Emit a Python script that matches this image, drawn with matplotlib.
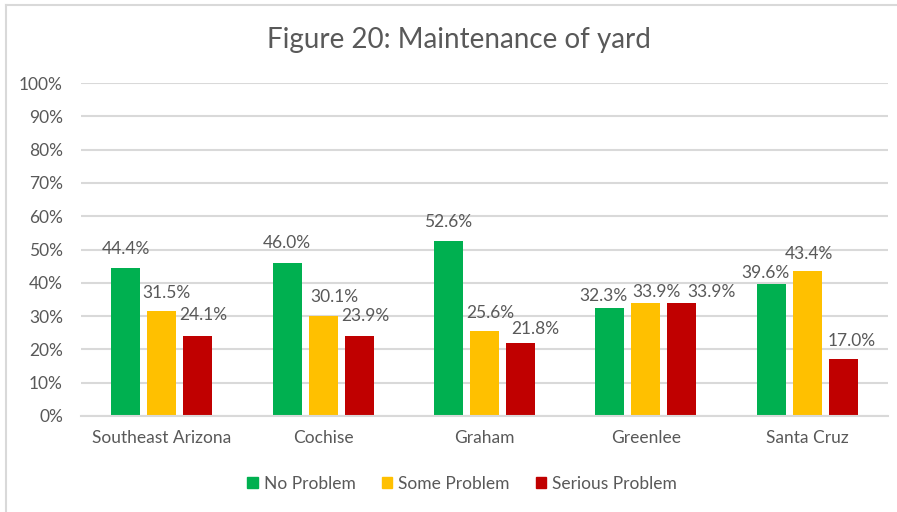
import matplotlib
matplotlib.use("Agg")
import matplotlib.pyplot as plt
import numpy as np
from matplotlib.lines import Line2D

categories = ["Southeast Arizona", "Cochise", "Graham", "Greenlee", "Santa Cruz"]
series_names = ["No Problem", "Some Problem", "Serious Problem"]
no_problem = [44.4, 46.0, 52.6, 32.3, 39.6]
some_problem = [31.5, 30.1, 25.6, 33.9, 43.4]
serious_problem = [24.1, 23.9, 21.8, 33.9, 17.0]
colors = ["#00B050", "#FFC000", "#C00000"]
yticks = [0, 10, 20, 30, 40, 50, 60, 70, 80, 90, 100]

# label placement nudges (pixels) to mimic the reference's de-overlapped labels
label_dx = [[0, 0, 0, -6.5, -6], [5, 11, 6, 10.5, 2], [6, 6.5, 15, 29.5, 8]]
label_gap = [[15, 16, 15, 8, 7], [14, 15, 14, 7, 13], [17, 16, 10, 7, 14]]

plt.rcParams['font.family'] = ['Lato', 'DejaVu Sans']
txt = "#595959"
fs = 12.5
px = 72 / 100  # points per pixel

fig = plt.figure(figsize=(8.97, 5.12), dpi=100)
ax = fig.add_axes([81/897, 1-416/512, (888-81)/897, (416-83)/512])

x = np.arange(len(categories))
w = 0.18
step = 0.223
for i, (vals, c) in enumerate(zip([no_problem, some_problem, serious_problem], colors)):
    pos = x + (i-1)*step
    ax.bar(pos, vals, width=w, color=c, zorder=3, label=series_names[i])
    for j, (p, v) in enumerate(zip(pos, vals)):
        ax.annotate(f"{v:.1f}%", (p, v),
                    xytext=(label_dx[i][j]*px, (label_gap[i][j]-4)*px),
                    textcoords="offset points", ha="center", va="bottom",
                    fontsize=fs, color=txt)

ax.set_xlim(-0.5, len(categories)-0.5)
ax.set_ylim(0, 100)
ax.set_yticks(yticks)
ax.set_yticklabels([f"{t}%" for t in yticks], fontsize=fs, color=txt)
ax.set_xticks(x)
ax.set_xticklabels(categories, fontsize=fs, color=txt)
ax.tick_params(axis='both', length=0)
ax.tick_params(axis='y', pad=13)
ax.tick_params(axis='x', pad=10)
ax.grid(axis='y', color="#D9D9D9", linewidth=1.5, zorder=0)
for s in ["top", "right", "left"]:
    ax.spines[s].set_visible(False)
ax.spines["bottom"].set_color("#D9D9D9")
ax.spines["bottom"].set_linewidth(1.5)
ax.spines["bottom"].set_zorder(4)

fig.text(459/897, 1-40/512, "Figure 20: Maintenance of yard", ha="center", va="center",
         fontsize=20, color=txt)

handles = [plt.Rectangle((0, 0), 1, 1, color=c) for c in colors]
fig.legend(handles, series_names, loc="center", bbox_to_anchor=(462/897, 1-484/512),
           ncol=3, frameon=False, fontsize=fs, labelcolor=txt, handlelength=0.6,
           handleheight=0.6, handletextpad=0.35, columnspacing=1.5)

# outer chart border (top and left visible)
fig.add_artist(Line2D([6/897, 1], [1-5/512, 1-5/512], color="#D9D9D9", linewidth=1.5))
fig.add_artist(Line2D([6/897, 6/897], [0, 1-5/512], color="#D9D9D9", linewidth=1.5))

fig.savefig("out.png", dpi=100)
